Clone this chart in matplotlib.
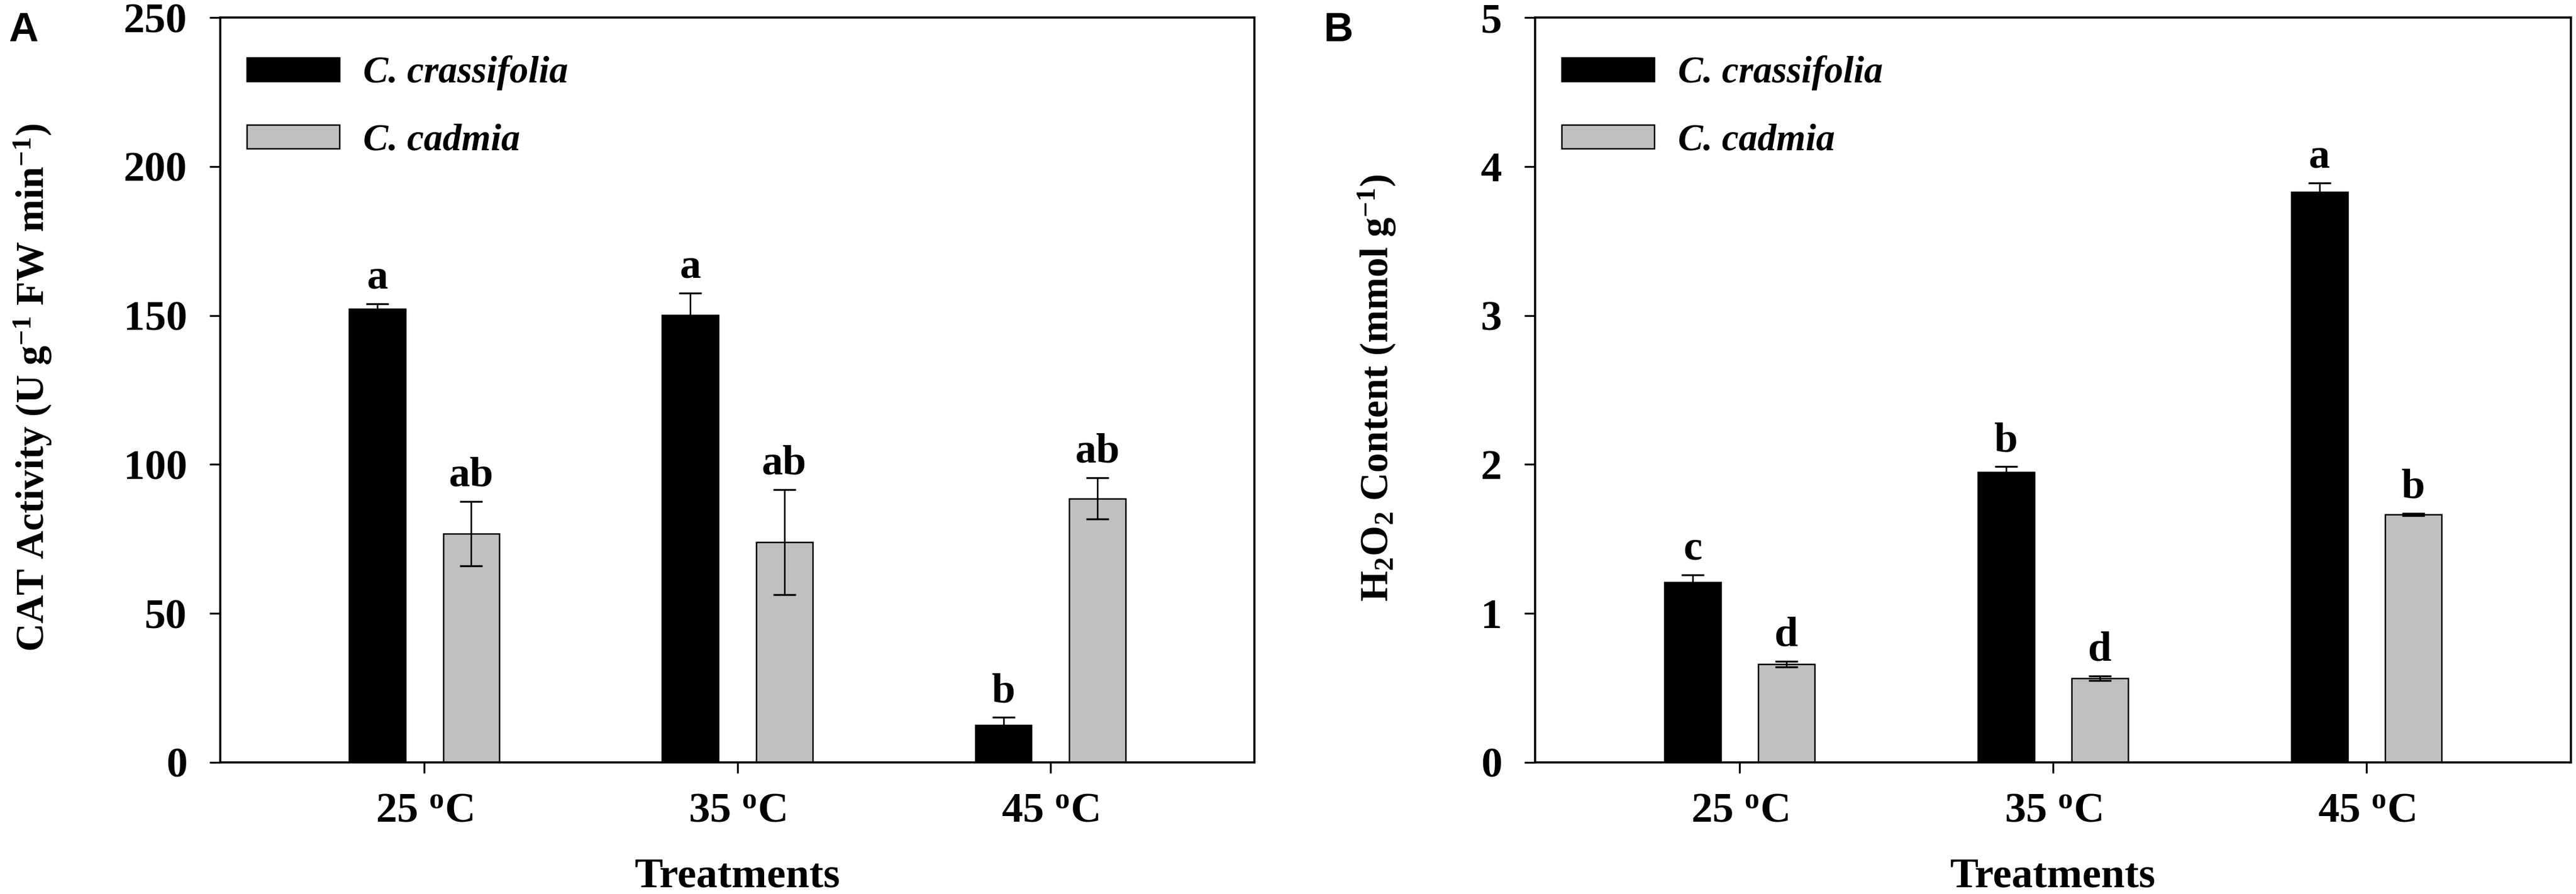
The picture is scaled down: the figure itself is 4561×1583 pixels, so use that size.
import numpy as np
import matplotlib
matplotlib.use('Agg')
import matplotlib.pyplot as plt

plt.rcParams['font.family'] = ['Liberation Serif', 'DejaVu Serif']
plt.rcParams['font.weight'] = 'bold'
plt.rcParams['mathtext.fontset'] = 'custom'
plt.rcParams['mathtext.rm'] = 'Liberation Serif:bold'
plt.rcParams['mathtext.it'] = 'Liberation Serif:bold:italic'
plt.rcParams['mathtext.bf'] = 'Liberation Serif:bold'

treatments = ['25 $^{\\mathrm{o}}$C', '35 $^{\\mathrm{o}}$C', '45 $^{\\mathrm{o}}$C']
species = ['C. crassifolia', 'C. cadmia']

# panel A - CAT activity
cat_crassifolia = [152.2, 150.2, 12.5]
cat_crassifolia_err = [1.7, 7.3, 2.6]
cat_cadmia = [76.8, 73.9, 88.6]
cat_cadmia_err = [10.8, 17.7, 7.0]
cat_letters_crassifolia = ['a', 'a', 'b']
cat_letters_cadmia = ['ab', 'ab', 'ab']

# panel B - H2O2 content
h2o2_crassifolia = [1.21, 1.95, 3.83]
h2o2_crassifolia_err = [0.05, 0.035, 0.06]
h2o2_cadmia = [0.66, 0.565, 1.665]
h2o2_cadmia_err = [0.02, 0.015, 0.008]
h2o2_letters_crassifolia = ['c', 'b', 'a']
h2o2_letters_cadmia = ['d', 'd', 'b']

x = np.arange(1, len(treatments) + 1)
off = 0.15
w = 0.18


def draw_panel(ax, v1, e1, v2, e2, l1, l2, ymax, ylabel, label_x):
    ax.bar(x - off, v1, w, color='black', edgecolor='black', linewidth=0.6,
           label=species[0], zorder=2)
    ax.bar(x + off, v2, w, color='#c0c0c0', edgecolor='black', linewidth=0.6,
           label=species[1], zorder=2)
    for xs, v, e in [(x - off, v1, e1), (x + off, v2, e2)]:
        ax.errorbar(xs, v, yerr=e, fmt='none', ecolor='black', elinewidth=0.65,
                    capsize=4.9, capthick=0.8, zorder=3)
    for xs, v, e, labs in [(x - off, v1, e1, l1), (x + off, v2, e2, l2)]:
        for xi, vi, ei, t in zip(xs, v, e, labs):
            ax.annotate(t, (xi, vi + ei), xytext=(0, 6.5), textcoords='offset points',
                        ha='center', va='baseline', fontsize=18, fontweight='bold')
    ax.set_xlim(0.348, 3.652)
    ax.set_ylim(0, ymax)
    ax.set_xticks(x)
    ax.set_xticklabels(treatments)
    ax.tick_params(axis='both', direction='out', length=4.6, width=0.8,
                   labelsize=18, top=False, right=False)
    ax.tick_params(axis='x', pad=8)
    ax.tick_params(axis='y', pad=9.5)
    for s in ax.spines.values():
        s.set_linewidth(0.9)
    ax.set_xlabel('Treatments', fontsize=18, fontweight='bold', va='top')
    ax.xaxis.set_label_coords(0.5, -0.128)
    ax.set_ylabel(ylabel, fontsize=16.7, fontweight='bold')
    ax.yaxis.set_label_coords(label_x, 0.503)
    ax.legend(loc='upper left', bbox_to_anchor=(0.0255, 0.949), frameon=False,
              borderpad=0, borderaxespad=0, handlelength=2.47, handleheight=0.6,
              handletextpad=0.63, labelspacing=0.87,
              prop={'family': 'Liberation Serif', 'style': 'italic',
                    'weight': 'bold', 'size': 16})


fig = plt.figure(figsize=(4561 / 300, 1583 / 300), dpi=300)
axA = fig.add_axes([390 / 4561, 0.1472, 1831 / 4561, 0.8332])
axB = fig.add_axes([2718 / 4561, 0.1472, 1834 / 4561, 0.8332])

draw_panel(axA, cat_crassifolia, cat_crassifolia_err, cat_cadmia, cat_cadmia_err,
           cat_letters_crassifolia, cat_letters_cadmia, 250,
           'CAT Activity (U g$^{-1}$ FW min$^{-1}$)', -0.161)
axA.set_yticks([0, 50, 100, 150, 200, 250])

draw_panel(axB, h2o2_crassifolia, h2o2_crassifolia_err, h2o2_cadmia, h2o2_cadmia_err,
           h2o2_letters_crassifolia, h2o2_letters_cadmia, 5,
           'H$_{2}$O$_{2}$ Content (mmol g$^{-1}$)', -0.1325)
axB.set_yticks([0, 1, 2, 3, 4, 5])

fig.text(15 / 4561, 1 - 20 / 1583, 'A', ha='left', va='top', fontsize=17.4,
         family='Liberation Sans', fontweight='bold')
fig.text(2343 / 4561, 1 - 20 / 1583, 'B', ha='left', va='top', fontsize=17.4,
         family='Liberation Sans', fontweight='bold')

fig.savefig('out.png', dpi=300)
